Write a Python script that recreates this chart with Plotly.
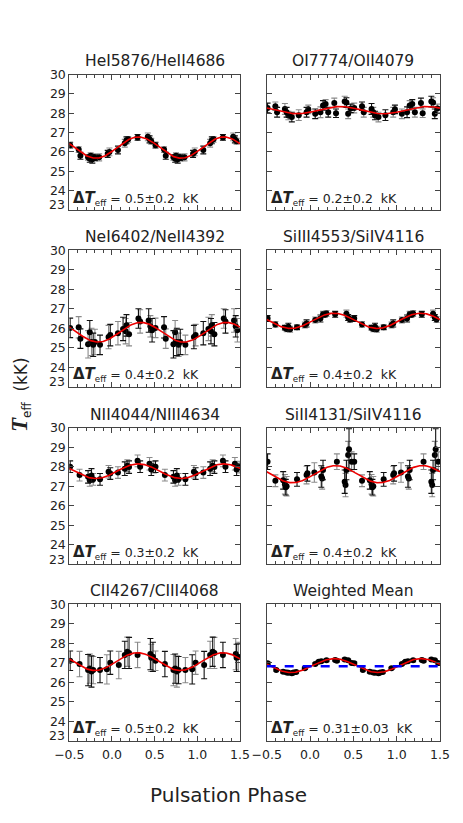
import numpy as np
import plotly.graph_objects as go

# ---------------- data ----------------
TITLES = ["HeI5876/HeII4686", "OI7774/OII4079",
          "NeI6402/NeII4392", "SiIII4553/SiIV4116",
          "NII4044/NIII4634", "SiII4131/SiIV4116",
          "CII4267/CIII4068", "Weighted Mean"]
DELTA_LABELS = ["0.5±0.2", "0.2±0.2", "0.4±0.2", "0.4±0.2",
                "0.3±0.2", "0.4±0.2", "0.5±0.2", "0.31±0.03"]
Y_TICKS = [23, 24, 25, 26, 27, 28, 29, 30]
X_TICKS = [-0.5, 0.0, 0.5, 1.0, 1.5]
WEIGHTED_MEAN_LEVEL = 26.82

PHASE_HEI = [-0.49, -0.39, -0.37, -0.28, -0.26, -0.25, -0.23, -0.22, -0.20, -0.15,
             -0.05, -0.03, 0.07, 0.15, 0.17, 0.19, 0.30, 0.42, 0.44, 0.46]
TEFF_HEI = [26.35, 26.12, 25.80, 25.72, 25.65, 25.80, 25.62, 25.75, 25.70, 25.72,
            25.90, 26.00, 26.10, 26.45, 26.60, 26.65, 26.75, 26.78, 26.65, 26.55]
ERR_HEI = [0.15, 0.15, 0.18, 0.15, 0.18, 0.15, 0.20, 0.15, 0.15, 0.18,
           0.18, 0.20, 0.20, 0.20, 0.18, 0.15, 0.15, 0.20, 0.18, 0.15]

PHASE_OI = [-0.49, -0.40, -0.38, -0.29, -0.27, -0.25, -0.21, -0.13, -0.04, -0.02, 0.06,
            0.12, 0.15, 0.18, 0.21, 0.28, 0.30, 0.40, 0.42, 0.44, 0.47]
TEFF_OI = [28.27, 28.36, 28.05, 28.22, 28.05, 27.88, 27.80, 27.90, 28.05, 28.20, 27.97,
           28.05, 28.40, 28.48, 28.05, 28.53, 28.00, 28.60, 28.55, 27.97, 28.25]
ERR_OI = [0.25, 0.22, 0.25, 0.28, 0.25, 0.22, 0.25, 0.28, 0.25, 0.22, 0.25,
          0.28, 0.25, 0.22, 0.25, 0.25, 0.22, 0.28, 0.25, 0.25, 0.22]

PHASE_NEI = [-0.49, -0.39, -0.37, -0.28, -0.26, -0.24, -0.22, -0.20, -0.14, -0.04, -0.02,
             0.07, 0.13, 0.16, 0.17, 0.20, 0.31, 0.33, 0.43, 0.45, 0.47]
TEFF_NEI = [26.02, 26.05, 25.47, 25.18, 25.80, 25.30, 25.15, 25.30, 25.15, 25.55, 25.65,
            25.75, 25.97, 25.85, 26.15, 25.70, 26.50, 26.35, 26.40, 26.10, 25.90]
ERR_NEI = [0.50, 0.55, 0.50, 0.70, 0.60, 0.70, 0.60, 0.65, 0.50, 0.60, 0.55,
           0.60, 0.60, 0.65, 0.55, 0.60, 0.50, 0.60, 0.60, 0.55, 0.60]

PHASE_SIIII = [-0.49, -0.40, -0.29, -0.27, -0.25, -0.23, -0.15, -0.06, -0.04,
               0.06, 0.12, 0.15, 0.17, 0.19, 0.29, 0.42, 0.44, 0.46]
TEFF_SIIII = [26.50, 26.20, 26.03, 25.97, 26.08, 25.95, 26.05, 26.17, 26.25,
              26.43, 26.50, 26.72, 26.70, 26.76, 26.72, 26.75, 26.55, 26.45]
ERR_SIIII = [0.15, 0.15, 0.12, 0.15, 0.18, 0.15, 0.12, 0.15, 0.18,
             0.15, 0.18, 0.15, 0.12, 0.15, 0.15, 0.18, 0.15, 0.15]

PHASE_NII = [-0.49, -0.38, -0.28, -0.26, -0.24, -0.22, -0.14, -0.04, -0.02,
             0.07, 0.15, 0.18, 0.20, 0.30, 0.33, 0.44, 0.46, 0.49]
TEFF_NII = [28.00, 27.57, 27.48, 27.30, 27.55, 27.35, 27.35, 27.74, 27.65,
            27.70, 27.90, 28.05, 27.98, 28.30, 28.00, 28.15, 27.85, 27.98]
ERR_NII = [0.30, 0.30, 0.32, 0.30, 0.35, 0.30, 0.30, 0.32, 0.30,
           0.30, 0.35, 0.30, 0.32, 0.30, 0.30, 0.32, 0.30, 0.30]

PHASE_SIII = [-0.49, -0.40, -0.31, -0.29, -0.28, -0.27, -0.15, -0.04, -0.03, 0.05,
              0.13, 0.14, 0.15, 0.31, 0.40, 0.41, 0.42, 0.44, 0.45, 0.48]
TEFF_SIII = [28.26, 27.28, 27.30, 27.10, 26.95, 27.00, 27.35, 27.57, 27.66, 27.70,
             27.50, 27.40, 27.83, 28.26, 27.23, 27.06, 27.83, 28.60, 28.90, 28.26]
ERR_SIII = [0.40, 0.30, 0.45, 0.50, 0.40, 0.50, 0.35, 0.45, 0.40, 0.50,
            0.55, 0.55, 0.50, 0.40, 0.60, 0.60, 0.50, 0.70, 1.05, 0.50]

PHASE_CII = [-0.49, -0.38, -0.28, -0.26, -0.24, -0.22, -0.14, -0.06, -0.02,
             0.08, 0.15, 0.18, 0.20, 0.30, 0.45, 0.46, 0.48]
TEFF_CII = [27.10, 26.93, 26.62, 26.70, 26.55, 26.62, 26.62, 26.66, 27.00,
            26.88, 27.40, 27.56, 27.50, 27.40, 27.44, 27.25, 27.30]
ERR_CII = [0.50, 0.65, 0.80, 0.75, 0.80, 0.70, 0.65, 0.75, 0.60,
           0.70, 0.70, 0.75, 0.80, 0.65, 0.80, 0.70, 0.75]

PHASE_WM = [-0.49, -0.39, -0.31, -0.27, -0.25, -0.21, -0.19, -0.16, -0.06,
            0.06, 0.10, 0.13, 0.19, 0.29, 0.31, 0.40, 0.44, 0.48]
TEFF_WM = [26.97, 26.62, 26.54, 26.50, 26.48, 26.46, 26.50, 26.52, 26.71,
           26.93, 27.05, 27.08, 27.12, 27.14, 27.10, 27.17, 27.12, 26.98]
ERR_WM = [0.06, 0.06, 0.07, 0.06, 0.06, 0.07, 0.06, 0.06, 0.06,
          0.07, 0.06, 0.06, 0.07, 0.06, 0.06, 0.07, 0.06, 0.06]

PHASES = [PHASE_HEI, PHASE_OI, PHASE_NEI, PHASE_SIIII, PHASE_NII, PHASE_SIII, PHASE_CII, PHASE_WM]
TEFFS = [TEFF_HEI, TEFF_OI, TEFF_NEI, TEFF_SIIII, TEFF_NII, TEFF_SIII, TEFF_CII, TEFF_WM]
ERRS = [ERR_HEI, ERR_OI, ERR_NEI, ERR_SIIII, ERR_NII, ERR_SIII, ERR_CII, ERR_WM]

# ---------------- layout geometry (page pixels) ----------------
OFF = 8                      # default body margin of the html page
W, H = 463 - 2 * OFF, 823 - 2 * OFF
COLS = [(69.3, 240.0), (266.7, 440.0)]
ROWS = [(74.5, 210.0), (250.3, 386.8), (427.7, 564.2), (604.2, 740.7)]
FONT = "DejaVu Sans"
TXT = "#222222"
AXC = "#444444"


def px(x):
    return (x - OFF) / W


def py(y):
    return 1 - (y - OFF) / H


fig = go.Figure()
layout = dict(width=W, height=H, margin=dict(l=0, r=0, t=0, b=0),
              paper_bgcolor="white", plot_bgcolor="white", showlegend=False,
              annotations=[])

xfit = np.linspace(-0.5, 1.5, 400)

for i in range(8):
    r, c = divmod(i, 2)
    n = "" if i == 0 else str(i + 1)
    xa, ya = "x" + n, "y" + n
    x0, x1 = COLS[c]
    yt, yb = ROWS[r]
    ph = np.array(PHASES[i])
    te = np.array(TEFFS[i])
    er = np.array(ERRS[i])
    # phase folded data shown over two cycles
    xs = np.concatenate([ph, ph + 1.0])
    ys = np.concatenate([te, te])
    es = np.concatenate([er, er])
    idx = np.arange(len(xs))
    for sel, col in ((idx % 2 == 1, "#8a8a8a"), (idx % 2 == 0, "#111111")):
        fig.add_trace(go.Scatter(
            x=xs[sel], y=ys[sel], mode="markers", xaxis=xa, yaxis=ya,
            marker=dict(color="black", size=6),
            error_y=dict(type="data", array=es[sel], color=col, thickness=1.1, width=3),
            hoverinfo="skip", cliponaxis=True))
    # weighted least-squares sinusoid fit (period 1)
    A = np.vstack([np.ones_like(ph), np.cos(2 * np.pi * ph), np.sin(2 * np.pi * ph)]).T
    wts = 1.0 / er
    coef, *_ = np.linalg.lstsq(A * wts[:, None], te * wts, rcond=None)
    yfit = coef[0] + coef[1] * np.cos(2 * np.pi * xfit) + coef[2] * np.sin(2 * np.pi * xfit)
    fig.add_trace(go.Scatter(x=xfit, y=yfit, mode="lines", xaxis=xa, yaxis=ya,
                             line=dict(color="#ee0000", width=1.6), hoverinfo="skip"))
    if i == 7:
        fig.add_trace(go.Scatter(x=[-0.5, 1.5], y=[WEIGHTED_MEAN_LEVEL] * 2, mode="lines",
                                 xaxis=xa, yaxis=ya,
                                 line=dict(color="#0000ff", width=2.6, dash="dash"),
                                 hoverinfo="skip"))

    layout["xaxis" + n] = dict(
        domain=[px(x0), px(x1)], anchor=ya, range=[-0.5, 1.5],
        showline=True, linecolor=AXC, linewidth=1, mirror="allticks",
        ticks="inside", ticklen=5, tickcolor=AXC, tickvals=X_TICKS,
        tickformat=".1f", showticklabels=(r == 3), ticklabelstandoff=2,
        tickfont=dict(family=FONT, size=12.5, color=TXT),
        minor=dict(ticks="inside", ticklen=3, dtick=0.1, tickcolor=AXC),
        showgrid=False, zeroline=False, automargin=False)
    # bottom label "23" is drawn slightly raised (as in the reference), so it is an annotation
    layout["yaxis" + n] = dict(
        domain=[py(yb), py(yt)], anchor=xa, range=[23, 30],
        showline=True, linecolor=AXC, linewidth=1, mirror="allticks",
        ticks="inside", ticklen=5, tickcolor=AXC, tickvals=Y_TICKS,
        ticktext=[""] + [str(v) for v in Y_TICKS[1:]],
        showticklabels=(c == 0), tickfont=dict(family=FONT, size=12.5, color=TXT),
        showgrid=False, zeroline=False, automargin=False)
    if c == 0:
        layout["annotations"].append(dict(
            text=str(Y_TICKS[0]), x=px(x0 - 2), y=py(yb - 5), xref="paper", yref="paper",
            xanchor="right", yanchor="middle", showarrow=False,
            font=dict(family=FONT, size=12.5, color=TXT)))

    layout["annotations"].append(dict(
        text=TITLES[i], x=px((x0 + x1) / 2), y=py(yt), xref="paper", yref="paper",
        xanchor="center", yanchor="bottom", yshift=2, showarrow=False,
        font=dict(family=FONT, size=15.5, color=TXT)))
    layout["annotations"].append(dict(
        text=('<span style="font-size:15px"><b>Δ<i>T</i></b></span><sub>eff</sub>'
              '\u00a0=\u00a0' + DELTA_LABELS[i] + '\u00a0\u00a0kK'),
        x=px(x0 + 2), y=py(yb - 12), xref="paper", yref="paper",
        xanchor="left", yanchor="middle", showarrow=False,
        font=dict(family=FONT, size=12.5, color=TXT)))

layout["annotations"].append(dict(
    text="Pulsation Phase", x=px(228), y=py(795), xref="paper", yref="paper",
    xanchor="center", yanchor="middle", showarrow=False,
    font=dict(family=FONT, size=20, color=TXT)))
layout["annotations"].append(dict(
    text=('<span style="font-family:Liberation Serif;font-size:23px"><b><i>T</i></b></span>'
          '<sub>eff</sub>\u00a0\u00a0(kK)'),
    x=px(20), y=py(395), xref="paper", yref="paper", textangle=-90,
    xanchor="center", yanchor="middle", showarrow=False,
    font=dict(family=FONT, size=17, color=TXT)))

fig.update_layout(**layout)
fig.write_html("out.html")
